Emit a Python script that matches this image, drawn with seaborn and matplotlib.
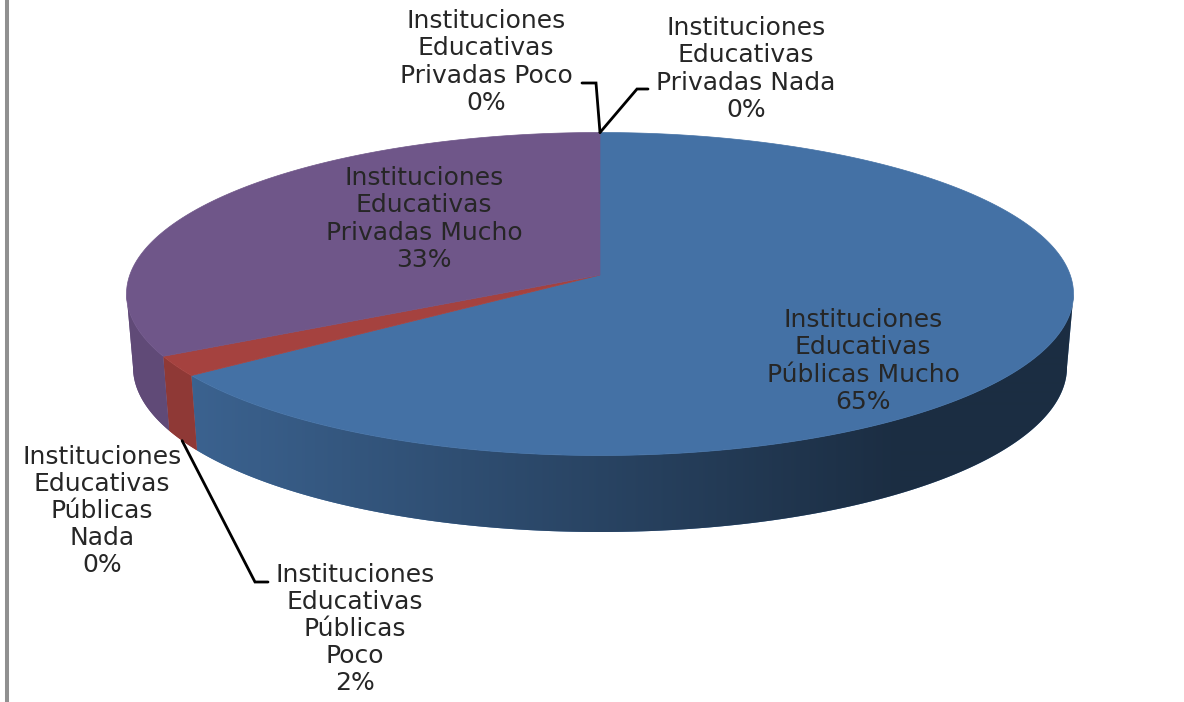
import numpy as np
import pandas as pd
import seaborn as sns
import matplotlib.pyplot as plt

# Values
labels = [
    "Instituciones\nEducativas\nPúblicas Mucho",
    "Instituciones\nEducativas\nPúblicas\nPoco",
    "Instituciones\nEducativas\nPúblicas\nNada",
    "Instituciones\nEducativas\nPrivadas Mucho",
    "Instituciones\nEducativas\nPrivadas Poco",
    "Instituciones\nEducativas\nPrivadas Nada",
]
shares = [65, 2, 0, 33, 0, 0]
slice_colors = ["#4471a5", "#a5423f", "#87a34a", "#6f5689", "#3f9ab0", "#d98535"]

# label centres in pixels, from the top left corner
label_x = [863, 355, 102, 424, 486, 746]
label_y = [361, 629, 511, 219, 62, 69]

sns.set_theme(style="white")
plt.rcParams["font.family"] = ["DejaVu Sans"]

df = pd.DataFrame({"label": labels, "share": shares, "color": sns.color_palette(slice_colors)})
df["start"] = df["share"].cumsum().shift(fill_value=0) / df["share"].sum() * 2 * np.pi
df["end"] = df["share"].cumsum() / df["share"].sum() * 2 * np.pi

# ellipse of the top face and of the bottom rim, tilt moves the apex up
TOP = (600, 294, 473.5, 161.5)
BOTTOM = (600, 367, 467, 165)
TILT = 0.1176
SIDE_FROM = np.arccos(-TILT)  # where the rim turns to the front


def project(theta, ellipse):
    cx, cy, a, b = ellipse
    x, y = np.sin(theta), np.cos(theta)
    den = 1 + TILT * y
    return cx + a * x * np.sqrt(1 - TILT**2) / den, cy - b * (y + TILT) / den


fig = plt.figure(figsize=(11.84, 7.02), dpi=100)
ax = fig.add_axes([0, 0, 1, 1])
ax.set_xlim(0, 1184)
ax.set_ylim(702, 0)
ax.axis("off")

# side wall first, a horizontal gradient clipped to the outline of each slice
xs = np.arange(100, 1100)
shade = np.interp(xs, [190, 900], [0.87, 0.40])
for _, row in df[df["share"] > 0].iterrows():
    lo = max(row["start"], SIDE_FROM)
    hi = min(row["end"], 2 * np.pi - SIDE_FROM)
    if hi <= lo:
        continue
    t = np.linspace(lo, hi, 200)
    xt, yt = project(t, TOP)
    xb, yb = project(t, BOTTOM)
    wall = ax.fill(np.r_[xt, xb[::-1]], np.r_[yt, yb[::-1]], color=row["color"], lw=0)[0]
    grad = np.outer(shade, np.array(row["color"]))[np.newaxis, :, :]
    im = ax.imshow(grad, extent=(100, 1100, 600, 200), aspect="auto", interpolation="bilinear", zorder=1.5)
    im.set_clip_path(wall)
ax.set_xlim(0, 1184)
ax.set_ylim(702, 0)

# top face
apex = (TOP[0], TOP[1] - TOP[3] * TILT)
for _, row in df[df["share"] > 0].iterrows():
    t = np.linspace(row["start"], row["end"], 300)
    xt, yt = project(t, TOP)
    ax.fill(np.r_[apex[0], xt], np.r_[apex[1], yt], color=row["color"], lw=0.5, zorder=2)

for i, row in df.iterrows():
    ax.text(label_x[i], label_y[i], f"{row['label']}\n{row['share']}%", ha="center", va="center",
            fontsize=18, linespacing=1.16, color="#262626", zorder=3)

# leader lines
line_style = dict(color="black", lw=2, solid_joinstyle="miter", zorder=3)
x0, y0 = project(df.loc[1, ["start", "end"]].mean(), BOTTOM)
ax.plot([x0, 255, 268], [y0, 582, 582], **line_style)
x1, y1 = project(df.loc[4, "end"], TOP)
ax.plot([582, 596, x1], [83, 83, y1], **line_style)
ax.plot([648, 637, x1], [89, 89, y1], **line_style)

# grey rule on the left edge of the picture
ax.axvline(7, color="#909090", lw=2.9)

fig.savefig("out.png", dpi=100, facecolor="white")
